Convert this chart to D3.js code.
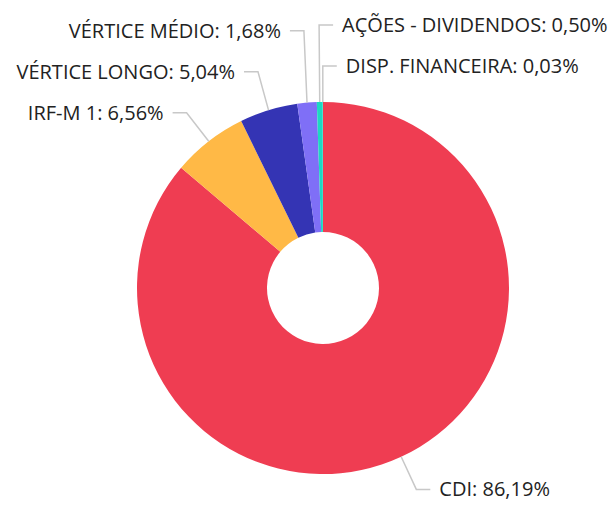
<!DOCTYPE html>
<html><head><meta charset="utf-8">
<script src="https://cdn.jsdelivr.net/npm/d3@7"></script>
<style>body{margin:0;background:#fff}svg{display:block}</style>
</head><body><svg id="c" width="611" height="506"></svg>
<script>
const categories = ["CDI", "IRF-M 1", "VÉRTICE LONGO", "VÉRTICE MÉDIO", "AÇÕES - DIVIDENDOS", "DISP. FINANCEIRA"];
const values = [86.19, 6.56, 5.04, 1.68, 0.50, 0.03];
const colors = ["#EF3D52", "#FFB946", "#3434B4", "#7F6FF7", "#1DD8C2", "#1DD8C2"];

const W = 611, H = 506, cx = 323, cy = 288, R = 186, r0 = 56;
const svg = d3.select("#c");
const g = svg.append("g").attr("transform", `translate(${cx},${cy})`);
const pie = d3.pie().sort(null).value(d => d)(values);
const arc = d3.arc().innerRadius(r0).outerRadius(R);
g.selectAll("path.s").data(pie).join("path").attr("class","s")
  .attr("d", arc).attr("fill", (d,i) => colors[i]);

const fmt = v => v.toFixed(2).replace(".", ",") + "%";
const len = 36, hseg = 14, gap = 41;
const labels = pie.map((d, i) => {
  const a = (d.startAngle + d.endAngle) / 2;
  const ax = R * Math.sin(a), ay = -R * Math.cos(a);
  const ex = (R + len) * Math.sin(a), ey = -(R + len) * Math.cos(a);
  return {i, a, ax, ay, ex, ey, side: ex < -4 ? -1 : 1, text: categories[i] + ": " + fmt(values[i])};
});
[-1, 1].forEach(side => {
  const grp = labels.filter(l => l.side === side && l.ay < 0)
    .sort((p, q) => (Math.round(q.ey) - Math.round(p.ey)) || (q.a - p.a));
  for (let k = 1; k < grp.length; k++) {
    if (grp[k].ey > grp[k-1].ey - gap) grp[k].ey = grp[k-1].ey - gap;
  }
});
const lg = g.append("g");
labels.forEach(l => {
  const tx = l.ex + l.side * hseg;
  lg.append("polyline")
    .attr("points", `${l.ax},${l.ay} ${l.ex},${l.ey} ${tx},${l.ey}`)
    .attr("fill", "none").attr("stroke", "#c8c8c8").attr("stroke-width", 1.5);
  lg.append("text").attr("x", tx + l.side * 9).attr("y", l.ey)
    .attr("dy", "0.35em")
    .attr("text-anchor", l.side < 0 ? "end" : "start")
    .attr("font-family", "'Open Sans', 'Noto Sans', sans-serif")
    .attr("font-size", 20).attr("fill", "#222")
    .text(l.text);
});
</script></body></html>
